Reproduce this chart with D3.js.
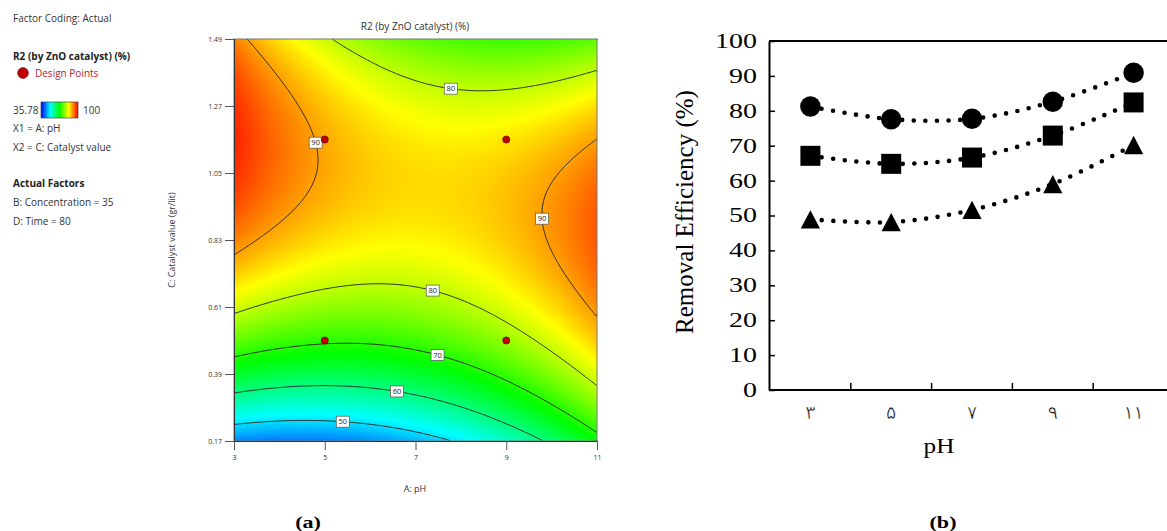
<!DOCTYPE html>
<html>
<head>
<meta charset="utf-8">
<script src="https://cdn.jsdelivr.net/npm/d3@7"></script>
<style>
  body { margin: 0; background: #fff; }
  svg { display: block; }
</style>
</head>
<body>
<svg id="fig" width="1167" height="531"></svg>
<script>
// ---------------------------------------------------------------------------
// Data
// ---------------------------------------------------------------------------

// (a) response surface, Design-Expert style
const pHRange = [3, 11];
const catalystRange = [0.17, 1.49];
const pHTicks = [3, 5, 7, 9, 11];
const catalystTicks = [0.17, 0.39, 0.61, 0.83, 1.05, 1.27, 1.49];
const designPH = [5, 9, 5, 9];
const designCatalyst = [0.50, 0.50, 1.16, 1.16];
// quadratic model in coded units: b0, A, C, AC, A^2, C^2
const modelCoefs = [84.4, 0.67, 6.66, -2.62, 2.21, -5.95];
const colorMin = 35.78, colorMax = 100;
const contourLevels = [50, 60, 70, 80, 90];
// where each contour label sits (level, pH, catalyst) - snapped onto the line
const labelLevel = [80, 90, 90, 80, 70, 60, 50];
const labelPH = [7.80, 4.81, 9.79, 7.39, 7.50, 6.60, 5.40];
const labelCat = [1.35, 1.15, 0.90, 0.67, 0.46, 0.34, 0.24];

const legendLines = [
  "X1 = A: pH",
  "X2 = C: Catalyst value"
];
const actualFactors = ["B: Concentration = 35", "D: Time = 80"];

// (b) removal efficiency vs pH
const pHCategories = ["\u06F3", "\u06F5", "\u06F7", "\u06F9", "\u06F1\u06F1"];
const effTicks = [0, 10, 20, 30, 40, 50, 60, 70, 80, 90, 100];
const seriesCircle = [81.2, 77.6, 77.7, 82.6, 90.9];
const seriesSquare = [67.1, 64.8, 66.6, 72.9, 82.4];
const seriesTriangle = [48.9, 48.1, 51.6, 59.0, 70.2];

// ---------------------------------------------------------------------------

const svg = d3.select("#fig");
const sans = "'Open Sans', 'Segoe UI', sans-serif";
const serif = "'Liberation Serif', 'Times New Roman', serif";

// ============================ panel (a) ====================================

const cx = d3.scaleLinear().domain(pHRange).range([234, 597]);
const cy = d3.scaleLinear().domain(catalystRange).range([441, 39]);

const pHMid = (pHRange[0] + pHRange[1]) / 2, pHStep = (pHRange[1] - pHRange[0]) / 4;
const catMid = (catalystRange[0] + catalystRange[1]) / 2, catStep = (catalystRange[1] - catalystRange[0]) / 4;

function response(pH, cat) {
  const a = (pH - pHMid) / pHStep, c = (cat - catMid) / catStep;
  const [b0, bA, bC, bAC, bAA, bCC] = modelCoefs;
  return b0 + bA * a + bC * c + bAC * a * c + bAA * a * a + bCC * c * c;
}

const colorScale = d3.scaleLinear()
  .domain([0, 0.25, 0.5, 0.75, 1].map(t => colorMin + t * (colorMax - colorMin)))
  .range(["#0000ff", "#00ffff", "#00ff00", "#ffff00", "#ff0000"])
  .clamp(true);

// colour field drawn to a canvas, then placed as an image
const pw = cx.range()[1] - cx.range()[0], ph = cy.range()[0] - cy.range()[1];
const canvas = document.createElement("canvas");
canvas.width = pw; canvas.height = ph;
const ctx = canvas.getContext("2d");
const img = ctx.createImageData(pw, ph);
for (let j = 0; j < ph; j++) {
  const cat = cy.invert(cy.range()[1] + j + 0.5);
  for (let i = 0; i < pw; i++) {
    const c = d3.rgb(colorScale(response(cx.invert(cx.range()[0] + i + 0.5), cat)));
    const k = (j * pw + i) * 4;
    img.data[k] = c.r; img.data[k + 1] = c.g; img.data[k + 2] = c.b; img.data[k + 3] = 255;
  }
}
ctx.putImageData(img, 0, 0);

const gA = svg.append("g");
gA.append("image")
  .attr("x", cx.range()[0]).attr("y", cy.range()[1])
  .attr("width", pw).attr("height", ph)
  .attr("preserveAspectRatio", "none")
  .attr("href", canvas.toDataURL());

// contour lines
const n = 240, m = 240;
const grid = new Array(n * m);
for (let j = 0; j < m; j++) {
  for (let i = 0; i < n; i++) {
    const pH = pHRange[0] + (i + 0.5) / n * (pHRange[1] - pHRange[0]);
    const cat = catalystRange[1] - (j + 0.5) / m * (catalystRange[1] - catalystRange[0]);
    grid[j * n + i] = response(pH, cat);
  }
}
const gx = d3.scaleLinear().domain([0, n]).range(cx.range());
const gy = d3.scaleLinear().domain([0, m]).range([cy.range()[1], cy.range()[0]]);
const onEdge = (a, b) => (a[0] <= 0 && b[0] <= 0) || (a[0] >= n && b[0] >= n) ||
                         (a[1] <= 0 && b[1] <= 0) || (a[1] >= m && b[1] >= m);

function isoPath(geom) {
  const p = d3.path();
  geom.coordinates.forEach(poly => poly.forEach(ring => {
    let pen = false;
    for (let k = 0; k < ring.length - 1; k++) {
      const a = ring[k], b = ring[k + 1];
      if (onEdge(a, b)) { pen = false; continue; }
      if (!pen) { p.moveTo(gx(a[0]), gy(a[1])); pen = true; }
      p.lineTo(gx(b[0]), gy(b[1]));
    }
  }));
  return p.toString();
}

gA.append("g").selectAll("path")
  .data(d3.contours().size([n, m]).thresholds(contourLevels)(grid))
  .join("path")
  .attr("d", isoPath)
  .attr("fill", "none")
  .attr("stroke", "#2b2b2b")
  .attr("stroke-width", 1);

// snap each label onto its contour (Newton steps in pixel space)
function snap(level, pH, cat) {
  let px = cx(pH), py = cy(cat);
  for (let it = 0; it < 8; it++) {
    const f = response(cx.invert(px), cy.invert(py)) - level;
    const fx = (response(cx.invert(px + 0.5), cy.invert(py)) - response(cx.invert(px - 0.5), cy.invert(py)));
    const fy = (response(cx.invert(px), cy.invert(py + 0.5)) - response(cx.invert(px), cy.invert(py - 0.5)));
    const g2 = fx * fx + fy * fy;
    if (g2 < 1e-9) break;
    px -= f * fx / g2; py -= f * fy / g2;
  }
  return [px, py];
}

const labels = gA.append("g").selectAll("g")
  .data(labelLevel.map((lv, i) => ({ lv, p: snap(lv, labelPH[i], labelCat[i]) })))
  .join("g")
  .attr("transform", d => `translate(${d.p[0]},${d.p[1]})`);
labels.append("rect")
  .attr("x", -6.5).attr("y", -5.5).attr("width", 13).attr("height", 11)
  .attr("fill", "#fff").attr("stroke", "#555").attr("stroke-width", 0.7);
labels.append("text")
  .attr("text-anchor", "middle").attr("dy", "0.35em")
  .attr("font-family", sans).attr("font-size", 7.5).attr("fill", "#222")
  .text(d => d.lv);

// design points
gA.append("g").selectAll("circle")
  .data(designPH)
  .join("circle")
  .attr("cx", d => cx(d))
  .attr("cy", (d, i) => cy(designCatalyst[i]))
  .attr("r", 3.6)
  .attr("fill", "#c00000")
  .attr("stroke", "#5a0000")
  .attr("stroke-width", 0.6);

// frame and axes
gA.append("rect")
  .attr("x", cx.range()[0]).attr("y", cy.range()[1])
  .attr("width", pw).attr("height", ph)
  .attr("fill", "none").attr("stroke", "#777").attr("stroke-width", 1);

const axA_y = gA.append("g")
  .attr("transform", `translate(${cx.range()[0]},0)`)
  .call(d3.axisLeft(cy).tickValues(catalystTicks).tickSize(9).tickPadding(3)
    .tickFormat(d3.format(".2f")));
const axA_x = gA.append("g")
  .attr("transform", `translate(0,${cy.range()[0]})`)
  .call(d3.axisBottom(cx).tickValues(pHTicks).tickSize(9).tickPadding(5)
    .tickFormat(d3.format("d")));
[axA_y, axA_x].forEach(ax => {
  ax.select(".domain").attr("stroke", "#333");
  ax.selectAll(".tick line").attr("stroke", "#555");
  ax.selectAll("text").attr("font-family", sans).attr("font-size", 7).attr("fill", "#333");
});

gA.append("text")
  .attr("x", 415).attr("y", 30).attr("text-anchor", "middle")
  .attr("font-family", sans).attr("font-size", 10).attr("fill", "#333")
  .text("R2 (by ZnO catalyst) (%)");
gA.append("text")
  .attr("x", 415).attr("y", 492).attr("text-anchor", "middle")
  .attr("font-family", sans).attr("font-size", 9).attr("fill", "#333")
  .text("A: pH");
gA.append("text")
  .attr("transform", "translate(175,240) rotate(-90)").attr("text-anchor", "middle")
  .attr("font-family", sans).attr("font-size", 9).attr("fill", "#333")
  .text("C: Catalyst value (gr/lit)");

// side legend
const leg = svg.append("g").attr("font-family", sans).attr("font-size", 10).attr("fill", "#333");
leg.append("text").attr("x", 13).attr("y", 21.5).text("Factor Coding: Actual");
leg.append("text").attr("x", 13).attr("y", 59.5).attr("font-weight", "bold").attr("fill", "#222")
  .text("R2 (by ZnO catalyst) (%)");
leg.append("circle").attr("cx", 23).attr("cy", 73).attr("r", 5.4)
  .attr("fill", "#c00000").attr("stroke", "#6a0000").attr("stroke-width", 0.6);
leg.append("text").attr("x", 35).attr("y", 76.5).attr("fill", "#b0262b").text("Design Points");

const grad = svg.append("defs").append("linearGradient").attr("id", "cbar");
grad.selectAll("stop")
  .data(colorScale.domain())
  .join("stop")
  .attr("offset", d => (d - colorMin) / (colorMax - colorMin))
  .attr("stop-color", d => colorScale(d));
leg.append("text").attr("x", 13).attr("y", 113.5).text(colorMin);
leg.append("rect").attr("x", 41).attr("y", 102).attr("width", 37).attr("height", 16)
  .attr("fill", "url(#cbar)").attr("stroke", "#444").attr("stroke-width", 0.7);
leg.append("text").attr("x", 83).attr("y", 113.5).text(colorMax);
leg.selectAll("text.xl")
  .data(legendLines)
  .join("text").attr("class", "xl")
  .attr("x", 13).attr("y", (d, i) => 131.5 + i * 19).text(d => d);
leg.append("text").attr("x", 13).attr("y", 186.5).attr("font-weight", "bold").attr("fill", "#222")
  .text("Actual Factors");
leg.selectAll("text.af")
  .data(actualFactors)
  .join("text").attr("class", "af")
  .attr("x", 13).attr("y", (d, i) => 205.5 + i * 19).text(d => d);

// ============================ panel (b) ====================================

const bx = d3.scaleBand().domain(pHCategories).range([770, 1174]);
const by = d3.scaleLinear().domain([0, 100]).range([390, 41]);
const gB = svg.append("g");
const stretch = 1.4;

// frame (top edge runs off the page)
gB.append("line").attr("x1", 769).attr("x2", 1180).attr("y1", by(100)).attr("y2", by(100))
  .attr("stroke", "#000").attr("stroke-width", 2);

const axB_y = gB.append("g")
  .attr("transform", "translate(769,0)")
  .call(d3.axisLeft(by).tickValues(effTicks).tickSizeInner(-6).tickSizeOuter(0).tickPadding(12));
axB_y.select(".domain").attr("stroke", "#000").attr("stroke-width", 2);
axB_y.selectAll(".tick line").attr("stroke", "#000").attr("stroke-width", 1.5);
axB_y.selectAll("text")
  .attr("font-family", serif).attr("font-size", 20).attr("fill", "#000")
  .attr("x", -12 / stretch).attr("transform", `scale(${stretch},1)`);

const axB_x = gB.append("g")
  .attr("transform", `translate(0,${by(0)})`)
  .call(d3.axisBottom(bx).tickSize(0).tickPadding(16));
axB_x.select(".domain").remove();
// the Persian digit glyph is heavy; a thin white outline makes it lighter
axB_x.selectAll("text")
  .attr("font-family", "'DejaVu Sans', sans-serif")
  .attr("font-size", 19).attr("fill", "#000")
  .attr("stroke", "#fff").attr("stroke-width", 0.55);
gB.append("line").attr("x1", 769).attr("x2", 1180).attr("y1", by(0)).attr("y2", by(0))
  .attr("stroke", "#000").attr("stroke-width", 2);
gB.append("g").selectAll("line")
  .data(pHCategories.slice(1).map(d => bx(d)))
  .join("line")
  .attr("x1", d => d).attr("x2", d => d)
  .attr("y1", by(0)).attr("y2", by(0) - 7)
  .attr("stroke", "#000").attr("stroke-width", 1.5);

// series
const xc = (d, i) => bx(pHCategories[i]) + bx.bandwidth() / 2;
const line = d3.line().x(xc).y(d => by(d)).curve(d3.curveCatmullRom.alpha(0.5));
const triangle = {
  draw(context, size) {
    const w = Math.sqrt(size), h = w * 0.95;
    context.moveTo(0, -h / 2);
    context.lineTo(w / 2, h / 2);
    context.lineTo(-w / 2, h / 2);
    context.closePath();
  }
};
const series = [
  { values: seriesCircle, type: d3.symbolCircle, size: 330 },
  { values: seriesSquare, type: d3.symbolSquare, size: 400 },
  { values: seriesTriangle, type: triangle, size: 370 }
];
series.forEach(s => {
  gB.append("path")
    .attr("d", line(s.values))
    .attr("fill", "none")
    .attr("stroke", "#000")
    .attr("stroke-width", 4.6)
    .attr("stroke-linecap", "round")
    .attr("stroke-dasharray", "0 11.6");
});
series.forEach(s => {
  gB.append("g").selectAll("path")
    .data(s.values)
    .join("path")
    .attr("transform", (d, i) => `translate(${xc(d, i)},${by(d)})`)
    .attr("d", d3.symbol().type(s.type).size(s.size))
    .attr("fill", "#000");
});

gB.append("text")
  .attr("transform", "translate(693,212) rotate(-90)").attr("text-anchor", "middle")
  .attr("font-family", serif).attr("font-size", 25).attr("fill", "#000")
  .text("Removal Efficiency (%)");
gB.append("text")
  .attr("transform", "translate(939,453) scale(1.2,1)").attr("text-anchor", "middle")
  .attr("font-family", serif).attr("font-size", 21).attr("fill", "#000")
  .text("pH");

// panel captions
svg.selectAll("text.cap")
  .data([["(a)", 308], ["(b)", 943]])
  .join("text").attr("class", "cap")
  .attr("transform", d => `translate(${d[1]},528) scale(1.3,1)`)
  .attr("text-anchor", "middle")
  .attr("font-family", serif).attr("font-weight", "bold").attr("font-size", 17)
  .text(d => d[0]);
</script>
</body>
</html>
